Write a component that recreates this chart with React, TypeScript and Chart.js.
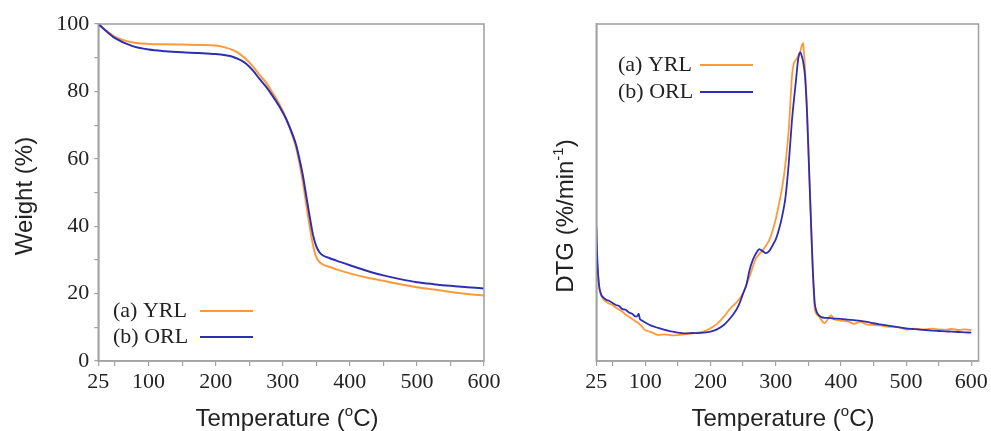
import React, { useEffect, useRef } from 'react';
import { Chart, registerables } from 'chart.js';

Chart.register(...registerables);

// ---------- data ----------
const seriesNames = ['(a) YRL', '(b) ORL'];

const tgaTemps = [25, 35, 50, 75, 100, 125, 150, 175, 200, 215, 225, 235, 245, 255, 265, 275, 285, 295, 305, 315, 320, 325, 330, 335, 340, 345, 350, 355, 360, 370, 380, 400, 425, 450, 475, 500, 525, 550, 575, 600];
const tgaYRL = [100, 98.3, 96.2, 94.6, 94.1, 94.0, 93.9, 93.8, 93.6, 93.0, 92.3, 91.2, 89.6, 87.5, 85.0, 82.6, 79.5, 76.2, 72.0, 66.5, 63.3, 58.5, 53.0, 46.5, 40.0, 34.5, 30.8, 29.3, 28.6, 27.9, 27.2, 26.0, 24.8, 23.8, 22.8, 21.9, 21.2, 20.5, 19.9, 19.4];
const tgaORL = [100, 98.2, 95.8, 93.5, 92.4, 91.9, 91.6, 91.4, 91.1, 90.7, 90.3, 89.5, 88.3, 86.3, 83.8, 81.4, 78.6, 75.5, 71.8, 67.0, 64.0, 59.8, 55.0, 49.0, 43.0, 37.5, 34.0, 32.2, 31.3, 30.5, 29.8, 28.4, 26.8, 25.4, 24.3, 23.4, 22.8, 22.3, 21.9, 21.5];

const dtgTemps = [
  25, 26, 28, 30, 33, 36, 40, 45, 50, 55,
  60, 65, 70, 75, 80, 85, 88, 90, 92, 95,
  100, 110, 120, 130, 140, 150, 160, 170, 180, 190,
  200, 210, 220, 230, 240, 245, 250, 255, 260, 265,
  270, 275, 280, 285, 290, 295, 300, 305, 310, 315,
  320, 325, 328, 331, 334, 336, 338, 340, 342, 345,
  348, 351, 354, 357, 360, 363, 366, 370, 375, 380,
  385, 390, 400, 410, 420, 430, 440, 450, 460, 470,
  480, 490, 500, 510, 520, 530, 540, 550, 560, 570,
  580, 590, 600,
];
const dtgYRL = [
  30, 29, 25, 21, 19.2, 18.3, 17.6, 17.0, 16.6, 15.8,
  15.3, 14.6, 13.8, 13.1, 12.5, 11.8, 11.4, 11.2, 10.8, 10.2,
  9.1, 8.5, 7.7, 7.9, 7.6, 7.7, 7.9, 8.1, 8.4, 8.8,
  9.7, 11.0, 13.0, 15.5, 17.4, 18.6, 20.1, 22.5, 25.0, 28.0,
  30.5, 31.8, 32.8, 34.2, 35.8, 38.5, 42.0, 46.5, 51.5, 58.5,
  68.5, 84.5, 88.5, 89.3, 90.2, 91.2, 92.0, 93.6, 94.3, 87.0,
  75.0, 59.0, 42.0, 26.0, 15.1, 13.8, 13.3, 12.2, 11.2, 12.4,
  13.6, 12.3, 12.0, 11.8, 11.0, 11.6, 10.8, 10.7, 10.6, 10.2,
  10.1, 9.9, 9.3, 9.6, 9.5, 9.4, 9.6, 9.4, 9.3, 9.5,
  9.2, 9.4, 9.2,
];
const dtgORL = [
  40, 33, 25, 21.5, 19.5, 18.8, 18.2, 17.8, 17.2, 16.6,
  16.3, 15.4, 15.2, 14.4, 14.0, 13.2, 13.4, 14.0, 12.4, 12.0,
  11.4, 10.4, 9.8, 9.2, 8.8, 8.4, 8.2, 8.3, 8.3, 8.4,
  8.7, 9.4, 10.6, 12.6, 15.3, 17.3, 20.0, 22.5, 27.0, 30.0,
  32.0, 33.2, 32.6, 32.0, 32.6, 34.2, 36.0, 39.0, 43.0, 48.5,
  58.5, 71.5, 77.5, 83.0, 88.8, 91.0, 91.6, 90.5, 89.0, 84.5,
  74.0, 58.0, 42.0, 27.0, 17.0, 14.5, 13.6, 13.0, 12.8, 12.8,
  12.7, 12.6, 12.5, 12.3, 12.1, 11.9, 11.6, 11.2, 10.9, 10.6,
  10.3, 10.0, 9.7, 9.5, 9.3, 9.2, 9.0, 8.9, 8.8, 8.7,
  8.6, 8.5, 8.4,
];

const xTickValues = [25, 50, 100, 150, 200, 250, 300, 350, 400, 450, 500, 550, 600];
const xTickLabels = ['25', '100', '200', '300', '400', '500', '600'];
const yTickValues = [0, 10, 20, 30, 40, 50, 60, 70, 80, 90, 100];
const yTickLabels = ['0', '20', '40', '60', '80', '100'];

// ---------- styles ----------
const ORANGE = '#FF9A3C';
const BLUE = '#2E2EB4';
const FRAME = '#a3a3a3';
const TEXT = '#222222';
const SERIF = '"Liberation Serif", "Times New Roman", serif';
const SANS = '"Liberation Sans", Arial, sans-serif';

type Seg = { t: string; sup?: boolean };

function drawRich(ctx: CanvasRenderingContext2D, segs: Seg[], cx: number, cy: number, rot: number, size: number) {
  ctx.save();
  ctx.translate(cx, cy);
  ctx.rotate(rot);
  const base = `${size}px ${SANS}`;
  const sup = `${Math.round(size * 0.62)}px ${SANS}`;
  let total = 0;
  const widths = segs.map((s) => {
    ctx.font = s.sup ? sup : base;
    const w = ctx.measureText(s.t).width;
    total += w;
    return w;
  });
  let x = -total / 2;
  ctx.textAlign = 'left';
  ctx.textBaseline = 'alphabetic';
  ctx.fillStyle = TEXT;
  segs.forEach((s, i) => {
    ctx.font = s.sup ? sup : base;
    ctx.fillText(s.t, x, s.sup ? size * 0.36 - size * 0.42 : size * 0.36);
    x += widths[i];
  });
  ctx.restore();
}

type DecorOpts = {
  legendX: number;
  legendY: number;
  legendDy: number;
  lineX1: number;
  lineX2: number;
  xTitle: { x: number; y: number; segs: Seg[] };
  yTitle: { x: number; y: number; segs: Seg[] };
};

function decorPlugin(o: DecorOpts) {
  return {
    id: 'decor',
    afterDraw(chart: any) {
      const { ctx, chartArea: ca } = chart;
      ctx.save();
      ctx.strokeStyle = FRAME;
      ctx.lineWidth = 1.6;
      ctx.strokeRect(ca.left, ca.top, ca.right - ca.left, ca.bottom - ca.top);
      ctx.font = `22px ${SERIF}`;
      ctx.textBaseline = 'middle';
      ctx.textAlign = 'left';
      const colors = [ORANGE, BLUE];
      seriesNames.forEach((name, i) => {
        const y = o.legendY + i * o.legendDy;
        ctx.fillStyle = TEXT;
        ctx.fillText(name, o.legendX, y);
        ctx.strokeStyle = colors[i];
        ctx.lineWidth = 2.2;
        ctx.beginPath();
        ctx.moveTo(o.lineX1, y);
        ctx.lineTo(o.lineX2, y);
        ctx.stroke();
      });
      ctx.restore();
      drawRich(ctx, o.xTitle.segs, o.xTitle.x, o.xTitle.y, 0, 24);
      drawRich(ctx, o.yTitle.segs, o.yTitle.x, o.yTitle.y, -Math.PI / 2, 24);
    },
  };
}

const tickFont = { family: SERIF, size: 22 };

function xAxis(max: number) {
  return {
    type: 'linear' as const,
    min: 25,
    max,
    afterBuildTicks: (s: any) => {
      s.ticks = xTickValues.map((v) => ({ value: v }));
    },
    afterFit: (s: any) => {
      s.height = 70;
    },
    ticks: {
      autoSkip: false,
      maxRotation: 0,
      padding: 3,
      color: TEXT,
      font: tickFont,
      callback: (v: any) => (xTickLabels.includes(String(v)) ? String(v) : ''),
    },
    grid: { drawOnChartArea: false, drawTicks: true, tickLength: 5, color: FRAME, lineWidth: 1.2 },
    border: { display: true, color: FRAME, width: 1.6 },
  };
}

const temperatureTitle: Seg[] = [{ t: 'Temperature (' }, { t: 'o', sup: true }, { t: 'C)' }];

function TgaChart() {
  const ref = useRef<HTMLCanvasElement>(null);
  useEffect(() => {
    const chart = new Chart(ref.current!, {
      type: 'line',
      data: {
        datasets: [
          {
            label: seriesNames[1],
            data: tgaTemps.map((t, i) => ({ x: t, y: tgaORL[i] })),
            borderColor: BLUE,
            borderWidth: 2,
            pointRadius: 0,
            cubicInterpolationMode: 'monotone',
            order: 0,
          },
          {
            label: seriesNames[0],
            data: tgaTemps.map((t, i) => ({ x: t, y: tgaYRL[i] })),
            borderColor: ORANGE,
            borderWidth: 2,
            pointRadius: 0,
            cubicInterpolationMode: 'monotone',
            order: 1,
          },
        ],
      },
      options: {
        responsive: false,
        animation: false,
        layout: { padding: { top: 24, right: 21, bottom: 0, left: 0 } },
        plugins: { legend: { display: false }, tooltip: { enabled: false } },
        scales: {
          x: xAxis(600),
          y: {
            type: 'linear',
            min: 0,
            max: 100,
            afterBuildTicks: (s: any) => {
              s.ticks = yTickValues.map((v) => ({ value: v }));
            },
            afterFit: (s: any) => {
              s.width = 98.3;
            },
            ticks: {
              autoSkip: false,
              padding: 5,
              color: TEXT,
              font: tickFont,
              callback: (v: any) => (yTickLabels.includes(String(v)) ? String(v) : ''),
            },
            grid: { drawOnChartArea: false, drawTicks: true, tickLength: 4, color: FRAME, lineWidth: 1.2 },
            border: { display: true, color: FRAME, width: 1.6 },
          },
        },
      },
      plugins: [
        decorPlugin({
          legendX: 113,
          legendY: 311,
          legendDy: 26,
          lineX1: 200,
          lineX2: 253,
          xTitle: { x: 287, y: 417, segs: temperatureTitle },
          yTitle: { x: 23, y: 196, segs: [{ t: 'Weight (%)' }] },
        }),
      ],
    } as any);
    return () => chart.destroy();
  }, []);
  return <canvas ref={ref} width={505} height={431} style={{ position: 'absolute', left: 0, top: 0 }} />;
}

function DtgChart() {
  const ref = useRef<HTMLCanvasElement>(null);
  useEffect(() => {
    const chart = new Chart(ref.current!, {
      type: 'line',
      data: {
        datasets: [
          {
            label: seriesNames[1],
            data: dtgTemps.map((t, i) => ({ x: t, y: dtgORL[i] })),
            borderColor: BLUE,
            borderWidth: 1.8,
            pointRadius: 0,
            tension: 0.2,
            order: 0,
          },
          {
            label: seriesNames[0],
            data: dtgTemps.map((t, i) => ({ x: t, y: dtgYRL[i] })),
            borderColor: ORANGE,
            borderWidth: 1.8,
            pointRadius: 0,
            tension: 0.2,
            order: 1,
          },
        ],
      },
      options: {
        responsive: false,
        animation: false,
        layout: { padding: { top: 24, right: 8.7, bottom: 0, left: 0 } },
        plugins: { legend: { display: false }, tooltip: { enabled: false } },
        scales: {
          x: xAxis(611),
          y: {
            type: 'linear',
            min: 0,
            max: 100,
            afterFit: (s: any) => {
              s.width = 91.3;
            },
            ticks: { display: false },
            grid: { display: false },
            border: { display: true, color: FRAME, width: 1.6 },
          },
        },
      },
      plugins: [
        decorPlugin({
          legendX: 113,
          legendY: 65,
          legendDy: 27,
          lineX1: 195,
          lineX2: 248,
          xTitle: { x: 278, y: 417, segs: temperatureTitle },
          yTitle: { x: 59, y: 216, segs: [{ t: 'DTG (%/min' }, { t: '-1', sup: true }, { t: ')' }] },
        }),
      ],
    } as any);
    return () => chart.destroy();
  }, []);
  return <canvas ref={ref} width={486} height={431} style={{ position: 'absolute', left: 505, top: 0 }} />;
}

export default function App() {
  return (
    <div style={{ position: 'absolute', left: 0, top: 0, width: 991, height: 431, background: '#fff' }}>
      <TgaChart />
      <DtgChart />
    </div>
  );
}
